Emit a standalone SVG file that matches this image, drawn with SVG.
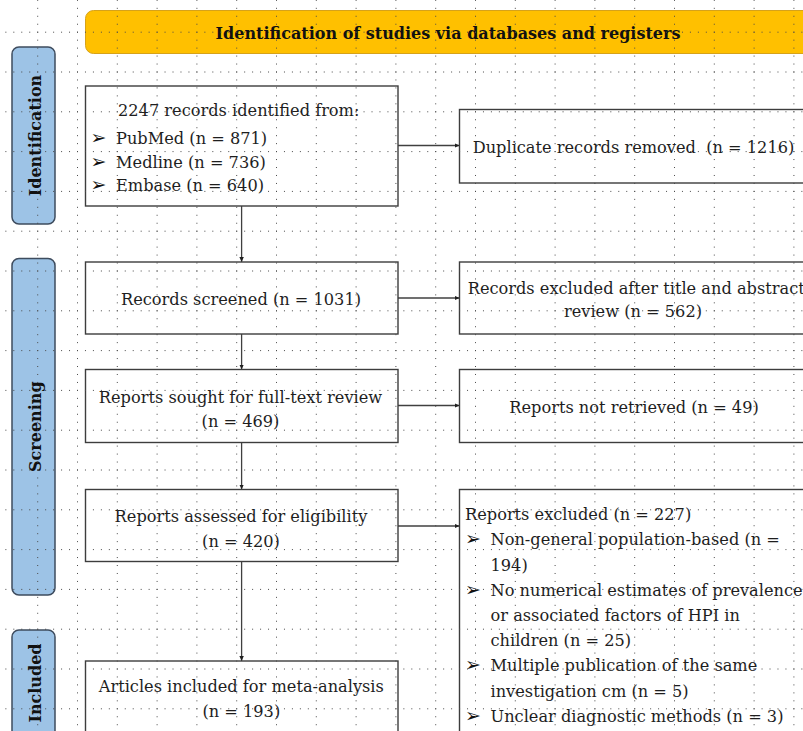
<svg xmlns="http://www.w3.org/2000/svg" width="803" height="731" viewBox="0 0 803 731">
<style>
.box{fill:#fff;stroke:#3d3d3d;stroke-width:1.4}
.side{fill:#9DC3E6;stroke:#3E4C5E;stroke-width:1.5}
.t{font-family:"DejaVu Serif",serif;font-size:16.2px;fill:#1e1e1e}
.tm{text-anchor:middle}
.b{font-family:"DejaVu Serif",serif;font-weight:bold;fill:#111}
.bul{font-family:"DejaVu Sans",sans-serif;font-size:19px;fill:#111}
.con{stroke:#404040;stroke-width:1.3;fill:none}
.gh{stroke:#4a4a4a;stroke-width:1;stroke-dasharray:1 6.96}
</style>
<defs>
<marker id="ah" markerUnits="userSpaceOnUse" markerWidth="5" markerHeight="5" refX="5" refY="2.25" orient="auto">
<path d="M0,0 L5,2.25 L0,4.5 z" fill="#202020"/>
</marker>
</defs>
<rect width="803" height="731" fill="#fff"/>

<g id="header">
<rect x="85.5" y="10.5" width="730" height="43" rx="8" fill="#FFC000" stroke="#D6A21A" stroke-width="1"/>
<text class="b" x="448" y="38.5" font-size="16" text-anchor="middle">Identification of studies via databases and registers</text>
</g>

<g id="label-identification">
<rect class="side" x="12" y="47" width="43" height="177" rx="7"/>
<text class="b" font-size="16" text-anchor="middle" transform="translate(40.5,135.5) rotate(-90)">Identification</text>
</g>
<g id="label-screening">
<rect class="side" x="12" y="258.5" width="43" height="336.5" rx="7"/>
<text class="b" font-size="16" text-anchor="middle" transform="translate(40.5,426.7) rotate(-90)">Screening</text>
</g>
<g id="label-included">
<rect class="side" x="12" y="630" width="43" height="125" rx="7"/>
<text class="b" font-size="16" text-anchor="middle" transform="translate(40.5,683) rotate(-90)">Included</text>
</g>

<g id="connectors">
<line class="con" x1="398" y1="145.5" x2="459.5" y2="145.5" marker-end="url(#ah)"/>
<line class="con" x1="398" y1="298" x2="459.5" y2="298" marker-end="url(#ah)"/>
<line class="con" x1="398" y1="405.5" x2="459.5" y2="405.5" marker-end="url(#ah)"/>
<line class="con" x1="398" y1="526" x2="459.5" y2="526" marker-end="url(#ah)"/>
<line class="con" x1="241.6" y1="206" x2="241.6" y2="262" marker-end="url(#ah)"/>
<line class="con" x1="241.6" y1="334" x2="241.6" y2="369.5" marker-end="url(#ah)"/>
<line class="con" x1="241.6" y1="442.5" x2="241.6" y2="489.5" marker-end="url(#ah)"/>
<line class="con" x1="241.6" y1="561.5" x2="241.6" y2="661" marker-end="url(#ah)"/>
</g>

<g id="identified">
<rect class="box" x="85.5" y="86" width="312.5" height="120"/>
<text class="t" x="118" y="116">2247 records identified from:</text>
<text class="bul" x="90.5" y="143.5">➢</text>
<text class="t" x="116" y="143.5">PubMed (n = 871)</text>
<text class="bul" x="90.5" y="167.5">➢</text>
<text class="t" x="116" y="167.5">Medline (n = 736)</text>
<text class="bul" x="90.5" y="191">➢</text>
<text class="t" x="116" y="191">Embase (n = 640)</text>
</g>

<g id="duplicates">
<rect class="box" x="459.5" y="109.5" width="350" height="73.5"/>
<text class="t" x="472.7" y="153" xml:space="preserve">Duplicate records removed  (n = 1216)</text>
</g>

<g id="screened">
<rect class="box" x="85.5" y="262" width="312.5" height="72"/>
<text class="t tm" x="241" y="305">Records screened (n = 1031)</text>
</g>

<g id="excluded-title">
<rect class="box" x="459.5" y="262" width="350" height="72"/>
<text class="t" x="467.7" y="293.5">Records excluded after title and abstract</text>
<text class="t tm" x="633" y="317">review (n = 562)</text>
</g>

<g id="sought">
<rect class="box" x="85.5" y="369.5" width="312.5" height="73"/>
<text class="t tm" x="240.5" y="402.5">Reports sought for full-text review</text>
<text class="t tm" x="240.5" y="426.5">(n = 469)</text>
</g>

<g id="not-retrieved">
<rect class="box" x="459.5" y="369.5" width="350" height="73"/>
<text class="t" x="509.3" y="412.5">Reports not retrieved (n = 49)</text>
</g>

<g id="assessed">
<rect class="box" x="85.5" y="489.5" width="312.5" height="72"/>
<text class="t tm" x="241" y="521.5">Reports assessed for eligibility</text>
<text class="t tm" x="241" y="547">(n = 420)</text>
</g>

<g id="excluded-reports">
<rect class="box" x="459.5" y="489.5" width="350" height="260"/>
<text class="t" x="465" y="520">Reports excluded (n = 227)</text>
<text class="bul" x="465" y="545">➢</text>
<text class="t" x="490.5" y="545">Non-general population-based (n =</text>
<text class="t" x="490.5" y="570.5">194)</text>
<text class="bul" x="465" y="595.5">➢</text>
<text class="t" x="490.5" y="595.5">No numerical estimates of prevalence</text>
<text class="t" x="490.5" y="621">or associated factors of HPI in</text>
<text class="t" x="490.5" y="646">children (n = 25)</text>
<text class="bul" x="465" y="671">➢</text>
<text class="t" x="490.5" y="671">Multiple publication of the same</text>
<text class="t" x="490.5" y="696.5">investigation cm (n = 5)</text>
<text class="bul" x="465" y="721.5">➢</text>
<text class="t" x="490.5" y="721.5">Unclear diagnostic methods (n = 3)</text>
</g>

<g id="included">
<rect class="box" x="85.5" y="661" width="312.5" height="90"/>
<text class="t tm" x="241.3" y="691.5">Articles included for meta-analysis</text>
<text class="t tm" x="241.3" y="716.5">(n = 193)</text>
</g>

<g id="grid">
<line class="gh" x1="-2.6" y1="32.2" x2="803" y2="32.2"/>
<line class="gh" x1="-2.6" y1="72" x2="803" y2="72"/>
<line class="gh" x1="-2.6" y1="111.8" x2="803" y2="111.8"/>
<line class="gh" x1="-2.6" y1="151.6" x2="803" y2="151.6"/>
<line class="gh" x1="-2.6" y1="191.4" x2="803" y2="191.4"/>
<line class="gh" x1="-2.6" y1="231.2" x2="803" y2="231.2"/>
<line class="gh" x1="-2.6" y1="271" x2="803" y2="271"/>
<line class="gh" x1="-2.6" y1="310.8" x2="803" y2="310.8"/>
<line class="gh" x1="-2.6" y1="350.6" x2="803" y2="350.6"/>
<line class="gh" x1="-2.6" y1="390.4" x2="803" y2="390.4"/>
<line class="gh" x1="-2.6" y1="430.2" x2="803" y2="430.2"/>
<line class="gh" x1="-2.6" y1="470" x2="803" y2="470"/>
<line class="gh" x1="-2.6" y1="509.8" x2="803" y2="509.8"/>
<line class="gh" x1="-2.6" y1="549.6" x2="803" y2="549.6"/>
<line class="gh" x1="-2.6" y1="589.4" x2="803" y2="589.4"/>
<line class="gh" x1="-2.6" y1="629.2" x2="803" y2="629.2"/>
<line class="gh" x1="-2.6" y1="669" x2="803" y2="669"/>
<line class="gh" x1="-2.6" y1="708.8" x2="803" y2="708.8"/>
<line class="gh" x1="37.7" y1="-8.1" x2="37.7" y2="731"/>
<line class="gh" x1="77.5" y1="-8.1" x2="77.5" y2="731"/>
<line class="gh" x1="117.3" y1="-8.1" x2="117.3" y2="731"/>
<line class="gh" x1="157.1" y1="-8.1" x2="157.1" y2="731"/>
<line class="gh" x1="196.9" y1="-8.1" x2="196.9" y2="731"/>
<line class="gh" x1="236.7" y1="-8.1" x2="236.7" y2="731"/>
<line class="gh" x1="276.5" y1="-8.1" x2="276.5" y2="731"/>
<line class="gh" x1="316.3" y1="-8.1" x2="316.3" y2="731"/>
<line class="gh" x1="356.1" y1="-8.1" x2="356.1" y2="731"/>
<line class="gh" x1="395.9" y1="-8.1" x2="395.9" y2="731"/>
<line class="gh" x1="435.7" y1="-8.1" x2="435.7" y2="731"/>
<line class="gh" x1="475.5" y1="-8.1" x2="475.5" y2="731"/>
<line class="gh" x1="515.3" y1="-8.1" x2="515.3" y2="731"/>
<line class="gh" x1="555.1" y1="-8.1" x2="555.1" y2="731"/>
<line class="gh" x1="594.9" y1="-8.1" x2="594.9" y2="731"/>
<line class="gh" x1="634.7" y1="-8.1" x2="634.7" y2="731"/>
<line class="gh" x1="674.5" y1="-8.1" x2="674.5" y2="731"/>
<line class="gh" x1="714.3" y1="-8.1" x2="714.3" y2="731"/>
<line class="gh" x1="754.1" y1="-8.1" x2="754.1" y2="731"/>
<line class="gh" x1="793.9" y1="-8.1" x2="793.9" y2="731"/>
</g>
</svg>
